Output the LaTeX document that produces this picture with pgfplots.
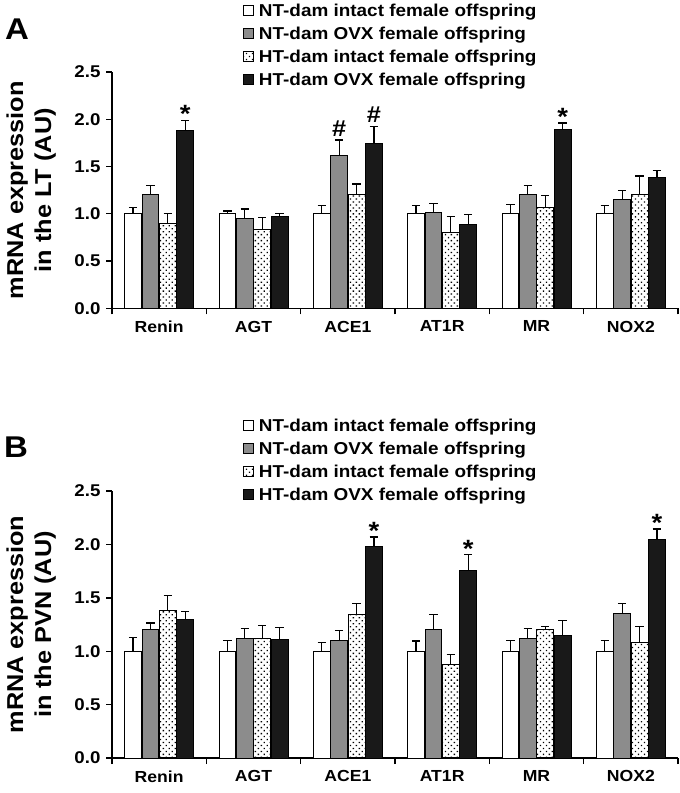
\documentclass[border=0pt]{standalone}
\usepackage{pgfplots}
\pgfplotsset{compat=1.18}
\usetikzlibrary{patterns.meta}
\usepackage{fontspec}
\setmainfont{Liberation Sans}[FakeStretch=1.1]
\definecolor{bargrey}{RGB}{140,140,140}
\definecolor{barblack}{RGB}{25,25,25}

\pgfplotsset{
 mystyle/.style={
  scale only axis, width=566pt,
  xmin=-0.5, xmax=5.5, ymin=0, ymax=2.5,
  axis lines*=left,
  axis line style={line width=1.4pt},
  ybar=0.6pt, bar width=16.8pt,
  xtick={0,...,5}, xticklabels={Renin,AGT,ACE1,AT1R,MR,NOX2},
  major x tick style={draw=none},
  minor xtick={-0.5,0.5,1.5,2.5,3.5,4.5,5.5},
  minor x tick style={line width=1.4pt, black},
  minor tick length=6pt,
  ytick={0,0.5,1,1.5,2,2.5},
  y tick style={line width=1.4pt, black},
  major tick length=6pt,
  tick align=outside,
  /pgf/number format/assume math mode=true,
  yticklabel style={/pgf/number format/.cd, fixed, fixed zerofill, precision=1, /tikz/.cd, font=\fontsize{17}{17}\selectfont\bfseries, xshift=-2pt},
  xticklabel style={font=\fontsize{16}{16}\selectfont\bfseries, yshift=-3pt},
  ylabel style={font=\fontsize{23}{28}\selectfont\bfseries, align=center, at={(axis description cs:-0.143,0.5)}, anchor=center},
  legend cell align=left,
  legend style={draw=none, fill=none, inner sep=0pt, row sep=0pt,
     font=\fontsize{17.2}{17.2}\selectfont\bfseries,
     nodes={inner xsep=0pt, inner ysep=5.35pt, text height=12.3pt, text depth=0pt}},
  legend image code/.code={\draw[#1, line width=0.8pt] (0pt,-5pt) rectangle (10pt,5pt); \path (15pt,0pt);},
  error bars/y dir=plus, error bars/y explicit,
  error bars/error bar style={line width=1.2pt, black},
  error bars/error mark options={rotate=90, mark size=4.2pt, line width=1.2pt, black},
 },
 s1/.style={fill=white, draw=black, line width=0.8pt},
 s2/.style={fill=bargrey, draw=black, line width=0.8pt},
 s3/.style={draw=black, line width=0.8pt, pattern={Dots[distance=4.2pt, angle=45, radius=0.95pt]}, pattern color=black},
 s4/.style={fill=barblack, draw=black, line width=0.8pt},
}
\tikzset{
 star/.style={font=\fontsize{25}{25}\selectfont\bfseries, anchor=base, yshift=-2.5pt, inner sep=0pt},
 hash/.style={font=\fontsize{23}{23}\selectfont\bfseries, anchor=base, yshift=4pt, inner sep=0pt},
}

\begin{document}
\begin{tikzpicture}
\path[use as bounding box] (0pt,0pt) rectangle (680pt,-793pt);

\node[font=\fontsize{30}{30}\selectfont\bfseries] at (17pt,-29pt) {A};
\node[font=\fontsize{30}{30}\selectfont\bfseries] at (16pt,-447.5pt) {B};

% Panel A
\begin{axis}[mystyle, height=236.3pt, at={(112pt,-308.3pt)}, anchor=south west,
  ylabel={mRNA expression\\in the LT (AU)},
  legend style={at={(axis description cs:0.2314,1.311)}, anchor=north west}]
\addplot[s1] coordinates {(0,1.00) +- (0,0.065) (1,1.00) +- (0,0.03) (2,1.00) +- (0,0.085) (3,1.00) +- (0,0.09) (4,1.00) +- (0,0.10) (5,1.00) +- (0,0.09)};
\addplot[s2] coordinates {(0,1.20) +- (0,0.10) (1,0.95) +- (0,0.10) (2,1.62) +- (0,0.16) (3,1.01) +- (0,0.10) (4,1.20) +- (0,0.10) (5,1.15) +- (0,0.10)};
\addplot[s3] coordinates {(0,0.90) +- (0,0.10) (1,0.83) +- (0,0.13) (2,1.20) +- (0,0.115) (3,0.80) +- (0,0.17) (4,1.07) +- (0,0.12) (5,1.20) +- (0,0.20)};
\addplot[s4] coordinates {(0,1.88) +- (0,0.11) (1,0.97) +- (0,0.035) (2,1.74) +- (0,0.18) (3,0.89) +- (0,0.10) (4,1.89) +- (0,0.07) (5,1.38) +- (0,0.08)};
\legend{NT-dam intact female offspring, NT-dam OVX female offspring, HT-dam intact female offspring, HT-dam OVX female offspring}
\node[star, xshift=26.1pt] at (axis cs:0,1.99) {*};
\node[hash, xshift=-8.7pt] at (axis cs:2,1.78) {\#};
\node[hash, xshift=26.1pt] at (axis cs:2,1.92) {\#};
\node[star, xshift=26.1pt] at (axis cs:4,1.96) {*};
\end{axis}

% Panel B
\begin{axis}[mystyle, height=267pt, at={(112pt,-758pt)}, anchor=south west,
  ylabel={mRNA expression\\in the PVN (AU)},
  legend style={at={(axis description cs:0.2314,1.290)}, anchor=north west}]
\addplot[s1] coordinates {(0,1.00) +- (0,0.13) (1,1.00) +- (0,0.10) (2,1.00) +- (0,0.085) (3,1.00) +- (0,0.095) (4,1.00) +- (0,0.10) (5,1.00) +- (0,0.10)};
\addplot[s2] coordinates {(0,1.20) +- (0,0.065) (1,1.12) +- (0,0.095) (2,1.10) +- (0,0.095) (3,1.20) +- (0,0.145) (4,1.12) +- (0,0.09) (5,1.35) +- (0,0.10)};
\addplot[s3] coordinates {(0,1.38) +- (0,0.145) (1,1.12) +- (0,0.12) (2,1.34) +- (0,0.11) (3,0.88) +- (0,0.09) (4,1.20) +- (0,0.03) (5,1.08) +- (0,0.155)};
\addplot[s4] coordinates {(0,1.30) +- (0,0.07) (1,1.11) +- (0,0.11) (2,1.98) +- (0,0.09) (3,1.76) +- (0,0.145) (4,1.15) +- (0,0.14) (5,2.05) +- (0,0.095)};
\legend{NT-dam intact female offspring, NT-dam OVX female offspring, HT-dam intact female offspring, HT-dam OVX female offspring}
\node[star, xshift=26.1pt] at (axis cs:2,2.07) {*};
\node[star, xshift=26.1pt] at (axis cs:3,1.905) {*};
\node[star, xshift=26.1pt] at (axis cs:5,2.145) {*};
\end{axis}
\end{tikzpicture}
\end{document}
